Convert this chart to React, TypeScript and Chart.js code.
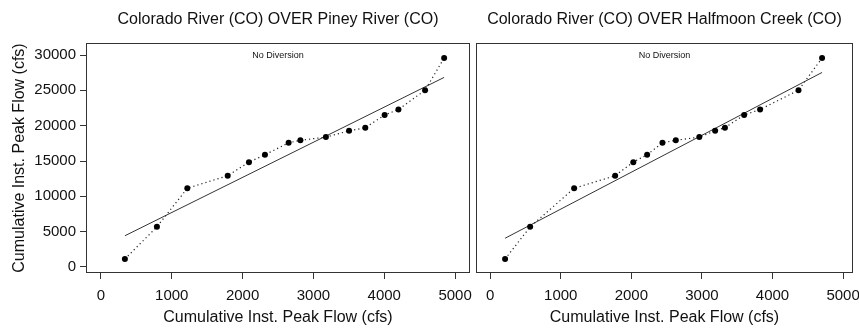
import React, { useEffect, useRef } from "react";
import { Chart, registerables } from "chart.js";

Chart.register(...registerables);

// Cumulative instantaneous peak flow (cfs)
const coloradoCumulative = [1130, 5680, 11140, 12920, 14840, 15890, 17570, 17930, 18380, 19270, 19720, 21510, 22290, 25020, 29580];
const pineyCumulative = [339, 791, 1220, 1790, 2090, 2316, 2650, 2816, 3176, 3503, 3732, 4005, 4200, 4576, 4845];
const halfmoonCumulative = [212, 567, 1190, 1771, 2028, 2224, 2441, 2630, 2963, 3187, 3326, 3598, 3824, 4368, 4702];

// Fitted straight lines (end points)
const pineyFitX = [339, 4845];
const pineyFitY = [4420, 26830];
const halfmoonFitX = [212, 4702];
const halfmoonFitY = [4070, 27530];

const panelTitles = [
  "Colorado River (CO) OVER Piney River (CO)",
  "Colorado River (CO) OVER Halfmoon Creek (CO)",
];
const axisTitle = "Cumulative Inst. Peak Flow (cfs)";
const noteText = "No Diversion";
const xTickValues = [0, 1000, 2000, 3000, 4000, 5000];
const yTickValues = [0, 5000, 10000, 15000, 20000, 25000, 30000];

const FONT = '"Liberation Sans", Arial, sans-serif';
const INK = "#111";

const framePlugin = {
  id: "frameNote",
  afterDraw(chart: any, _args: any, opts: any) {
    const { ctx, chartArea: a } = chart;
    ctx.save();
    ctx.strokeStyle = "#333";
    ctx.lineWidth = 1;
    ctx.strokeRect(a.left + 0.5, a.top + 0.5, a.right - a.left - 1, a.bottom - a.top - 1);
    ctx.font = `9px ${FONT}`;
    ctx.fillStyle = INK;
    ctx.textAlign = "center";
    ctx.textBaseline = "middle";
    ctx.fillText(opts.text || "", (a.left + a.right) / 2, a.top + 13);
    ctx.restore();
  },
};

function makeConfig(
  xs: number[],
  ys: number[],
  fitX: number[],
  fitY: number[],
  title: string,
  xMin: number,
  xMax: number,
  showY: boolean,
  padLeft: number,
  padRight: number
): any {
  return {
    type: "scatter",
    data: {
      datasets: [
        {
          data: xs.map((x, i) => ({ x, y: ys[i] })),
          showLine: true,
          borderColor: "#222",
          borderWidth: 1.2,
          borderDash: [1.2, 3],
          pointRadius: 3,
          pointBackgroundColor: "#000",
          pointBorderWidth: 0,
        },
        {
          data: fitX.map((x, i) => ({ x, y: fitY[i] })),
          showLine: true,
          borderColor: "#333",
          borderWidth: 1,
          pointRadius: 0,
        },
      ],
    },
    options: {
      responsive: false,
      animation: false,
      devicePixelRatio: 1,
      layout: { padding: { left: padLeft, right: padRight, top: 0, bottom: 0 } },
      plugins: {
        legend: { display: false },
        tooltip: { enabled: false },
        title: {
          display: true,
          text: title,
          fullSize: false,
          color: INK,
          font: { family: FONT, size: 16, weight: "normal" },
          padding: { top: 10, bottom: 13.8 },
        },
        frameNote: { text: noteText },
      },
      scales: {
        x: {
          type: "linear",
          min: xMin,
          max: xMax,
          afterBuildTicks: (s: any) => {
            s.ticks = xTickValues.map((v) => ({ value: v }));
          },
          afterFit: (s: any) => {
            s.height = 56;
            s.paddingLeft = 0;
            s.paddingRight = 0;
          },
          border: { display: false },
          grid: { display: true, drawOnChartArea: false, drawTicks: true, tickLength: 6, color: "#333" },
          ticks: {
            autoSkip: false,
            maxRotation: 0,
            padding: 8,
            color: INK,
            font: { family: FONT, size: 15 },
            callback: (v: any) => String(v),
          },
          title: {
            display: true,
            text: axisTitle,
            color: INK,
            font: { family: FONT, size: 16 },
            padding: { top: 0, bottom: 2 },
          },
        },
        y: {
          type: "linear",
          display: showY,
          min: -850,
          max: 31700,
          afterBuildTicks: (s: any) => {
            s.ticks = yTickValues.map((v) => ({ value: v }));
          },
          afterFit: (s: any) => {
            s.width = showY ? 86 : 0;
            s.paddingTop = 0;
            s.paddingBottom = 0;
          },
          border: { display: false },
          grid: { display: true, drawOnChartArea: false, drawTicks: true, tickLength: 6, color: "#333" },
          ticks: {
            autoSkip: false,
            padding: 4,
            color: INK,
            font: { family: FONT, size: 15 },
            callback: (v: any) => String(v),
          },
          title: {
            display: true,
            text: axisTitle,
            color: INK,
            font: { family: FONT, size: 16 },
            padding: { top: 10, bottom: 0 },
          },
        },
      },
    },
    plugins: [framePlugin],
  };
}

export default function App() {
  const leftRef = useRef<HTMLCanvasElement>(null);
  const rightRef = useRef<HTMLCanvasElement>(null);

  useEffect(() => {
    const left = new Chart(
      leftRef.current as HTMLCanvasElement,
      makeConfig(pineyCumulative, coloradoCumulative, pineyFitX, pineyFitY, panelTitles[0], -210, 5210, true, 0, 10)
    );
    const right = new Chart(
      rightRef.current as HTMLCanvasElement,
      makeConfig(halfmoonCumulative, coloradoCumulative, halfmoonFitX, halfmoonFitY, panelTitles[1], -200, 5140, false, 6, 6)
    );
    return () => {
      left.destroy();
      right.destroy();
    };
  }, []);

  return (
    <div style={{ position: "fixed", left: 0, top: 0, width: 859, height: 329, background: "#fff" }}>
      <canvas ref={leftRef} width={480} height={329} style={{ position: "absolute", left: 0, top: 0, width: 480, height: 329 }} />
      <canvas ref={rightRef} width={389} height={329} style={{ position: "absolute", left: 470, top: 0, width: 389, height: 329 }} />
    </div>
  );
}
